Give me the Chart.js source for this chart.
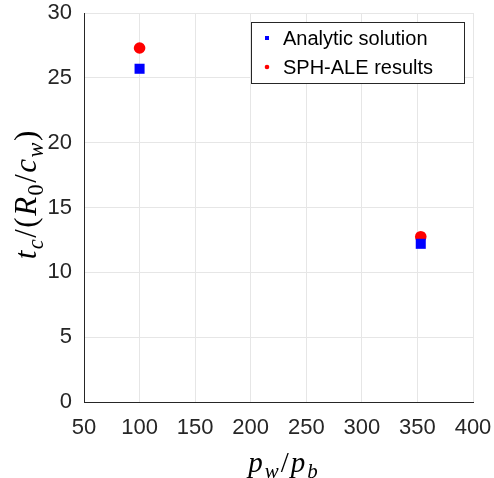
<!DOCTYPE html>
<html>
<head>
<meta charset="utf-8">
<script src="https://cdn.jsdelivr.net/npm/chart.js@4.4.0/dist/chart.umd.min.js"></script>
<style>
  body { margin: 0; background: #fff; }
  canvas { display: block; }
</style>
</head>
<body>
<canvas id="myChart" width="494" height="478"></canvas>
<script>
// data
var pressureRatio = [100, 353];
var analyticTime = [25.7, 12.2];
var sphTime = [27.3, 12.75];
var seriesNames = ['Analytic solution', 'SPH-ALE results'];

var tickFont = { family: 'Liberation Sans', size: 22 };
var textColor = '#262626';

function toPoints(xs, ys) {
  return xs.map(function (x, i) { return { x: x, y: ys[i] }; });
}

// draw math-like text made of pieces (italic / subscript)
function drawPieces(ctx, pieces, cx, cy, size, gap) {
  var parts = pieces.map(function (p) {
    var s = p.sub ? size * 0.72 : size;
    var f = (p.it ? 'italic ' : '') + s + 'px "Liberation Serif"';
    ctx.font = f;
    return { t: p.t, f: f, w: ctx.measureText(p.t).width + gap, sub: p.sub };
  });
  var total = parts.reduce(function (a, p) { return a + p.w; }, 0) - gap;
  var x = cx - total / 2;
  ctx.textBaseline = 'middle';
  ctx.textAlign = 'left';
  parts.forEach(function (p) {
    ctx.font = p.f;
    ctx.fillText(p.t, x, cy + (p.sub ? size * 0.28 : 0));
    x += p.w;
  });
}

var extras = {
  id: 'extras',
  afterDraw: function (chart) {
    var ctx = chart.ctx;
    ctx.save();
    ctx.fillStyle = '#000';
    // x title
    drawPieces(ctx, [
      { t: 'p', it: true }, { t: 'w', it: true, sub: true },
      { t: '/' },
      { t: 'p', it: true }, { t: 'b', it: true, sub: true }
    ], 283, 464, 29, 2);
    // y title
    ctx.save();
    ctx.translate(28, 195);
    ctx.rotate(-Math.PI / 2);
    drawPieces(ctx, [
      { t: 't', it: true }, { t: 'c', it: true, sub: true },
      { t: '/' }, { t: '(' },
      { t: 'R', it: true }, { t: '0', sub: true },
      { t: '/' },
      { t: 'c', it: true }, { t: 'w', it: true, sub: true },
      { t: ')' }
    ], 0, 0, 31, 1.5);
    ctx.restore();

    // legend box
    var bx = 251, by = 22, bw = 213, bh = 61;
    ctx.fillStyle = '#fff';
    ctx.fillRect(bx, by, bw, bh);
    ctx.strokeStyle = '#262626';
    ctx.lineWidth = 1;
    ctx.strokeRect(bx + 0.5, by + 0.5, bw, bh);
    ctx.font = '20px "Liberation Sans"';
    ctx.textBaseline = 'middle';
    ctx.textAlign = 'left';
    var rows = [38, 67];
    chart.data.datasets.forEach(function (ds, i) {
      ctx.fillStyle = ds.backgroundColor;
      if (ds.pointStyle === 'rect') {
        ctx.fillRect(265, rows[i] - 2, 4, 4);
      } else {
        ctx.beginPath();
        ctx.arc(267, rows[i], 2.3, 0, Math.PI * 2);
        ctx.fill();
      }
      ctx.fillStyle = '#000';
      ctx.fillText(ds.label, 283, rows[i] + 1);
    });
    ctx.restore();
  }
};

var ctx = document.getElementById('myChart').getContext('2d');
var myChart = new Chart(ctx, {
  type: 'scatter',
  data: {
    datasets: [{
      label: seriesNames[0],
      data: toPoints(pressureRatio, analyticTime),
      pointStyle: 'rect',
      pointRadius: 7.1,
      pointHoverRadius: 7.1,
      borderWidth: 0,
      backgroundColor: '#0000ff',
      borderColor: '#0000ff'
    }, {
      label: seriesNames[1],
      data: toPoints(pressureRatio, sphTime),
      pointStyle: 'circle',
      pointRadius: 5.8,
      pointHoverRadius: 5.8,
      borderWidth: 0,
      backgroundColor: '#ff0000',
      borderColor: '#ff0000'
    }]
  },
  options: {
    responsive: false,
    animation: false,
    layout: { padding: { left: 0, right: 21, top: 13, bottom: 0 } },
    plugins: {
      legend: { display: false },
      tooltip: { enabled: false }
    },
    scales: {
      x: {
        min: 50, max: 400,
        ticks: { stepSize: 50, font: tickFont, color: textColor, padding: 13, maxRotation: 0 },
        grid: { color: '#e6e6e6', drawTicks: false },
        border: { color: '#262626', width: 1 },
        afterFit: function (scale) {
          scale.height = 76;
          scale.paddingLeft = 0;
          scale.paddingRight = 0;
        }
      },
      y: {
        min: 0, max: 30,
        ticks: { stepSize: 5, font: tickFont, color: textColor, padding: 12 },
        grid: { color: '#e6e6e6', drawTicks: false },
        border: { color: '#262626', width: 1 },
        afterFit: function (scale) {
          scale.width = 84;
          scale.paddingTop = 0;
          scale.paddingBottom = 0;
        }
      }
    }
  },
  plugins: [extras]
});
</script>
</body>
</html>
